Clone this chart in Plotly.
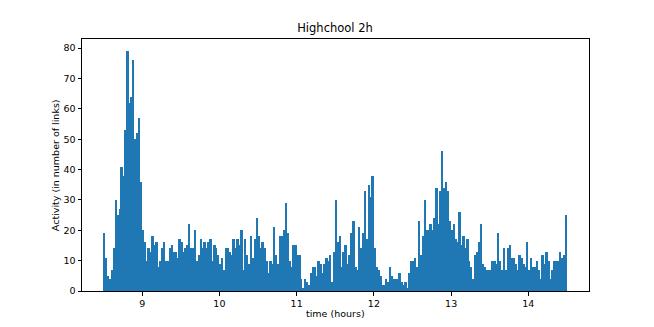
import numpy as np
import plotly.graph_objects as go

# =============================================================================
# DATA (1.5-minute bins from 8.5h to 14.5h)
# =============================================================================

START_HOUR = 8.5
BIN_HOURS = 0.025

activity_0830_0952 = [
    19, 11, 5, 4, 7, 14, 30, 25, 27, 41,
    38, 53, 79, 62, 64, 76, 50, 52, 57, 36,
    20, 16, 10, 14, 13, 18, 15, 16, 8, 10,
    14, 16, 10, 10, 14, 15, 13, 13, 11, 17,
    16, 13, 14, 15, 22, 14, 14, 20, 10, 12,
    17, 14, 16, 14, 16,
]
activity_0952_1122 = [
    17, 10, 15, 14, 12, 9, 11, 7, 14, 14,
    13, 12, 17, 14, 17, 15, 20, 7, 17, 12,
    9, 18, 11, 17, 24, 18, 14, 16, 14, 10,
    6, 10, 9, 21, 12, 9, 18, 18, 20, 29,
    19, 10, 8, 15, 15, 12, 12, 4, 1, 4,
    3, 2, 6, 8, 8, 5, 10, 9, 6, 9,
]
activity_1122_1255 = [
    11, 10, 12, 3, 13, 30, 16, 18, 8, 13,
    15, 9, 12, 19, 23, 8, 7, 21, 14, 19,
    33, 17, 35, 31, 38, 14, 8, 7, 5, 2,
    2, 4, 3, 8, 5, 4, 4, 4, 6, 3,
    2, 3, 1, 6, 10, 10, 11, 8, 23, 12,
    18, 30, 20, 20, 22, 20, 24, 34, 22, 33,
    46, 34,
]
activity_1255_1430 = [
    36, 33, 23, 20, 22, 17, 16, 26, 15, 18,
    14, 17, 10, 8, 4, 12, 13, 16, 22, 9,
    8, 7, 7, 7, 10, 10, 9, 19, 10, 7,
    14, 7, 14, 15, 11, 11, 9, 7, 12, 11,
    9, 8, 16, 7, 11, 8, 8, 10, 7, 4,
    12, 9, 13, 10, 4, 7, 10, 10, 10, 13,
    11, 12, 25,
]

activity = (activity_0830_0952 + activity_0952_1122
            + activity_1122_1255 + activity_1255_1430)
bin_starts = START_HOUR + BIN_HOURS * np.arange(len(activity))

x_ticks = [9, 10, 11, 12, 13, 14]
y_ticks = [0, 10, 20, 30, 40, 50, 60, 70, 80]

# =============================================================================
# FIGURE
# =============================================================================

fig = go.Figure()
fig.add_trace(
    go.Bar(
        x=bin_starts, y=activity, width=BIN_HOURS, offset=0,
        marker=dict(color='#1f77b4', line=dict(width=0)),
        hovertemplate='%{x:.2f} h: %{y}<extra></extra>',
    ))

axis_style = dict(showline=True, linecolor='black', linewidth=1, mirror=True,
                  ticks='outside', ticklen=3.5, tickcolor='black', showgrid=False,
                  zeroline=False, automargin=False,
                  tickfont=dict(size=9.5, color='black'))

fig.update_xaxes(range=[8.221, 14.785], tickvals=x_ticks, **axis_style)
fig.update_yaxes(range=[0, 83], tickvals=y_ticks, **axis_style)

# axis titles placed like matplotlib's
fig.add_annotation(text='time (hours)', xref='paper', yref='paper', x=0.5, y=-0.091,
                   showarrow=False, xanchor='center', yanchor='middle',
                   font=dict(size=9.5, color='black'))
fig.add_annotation(text='Activity (in number of links)', xref='paper', yref='paper',
                   x=-0.053, y=0.5, textangle=-90, showarrow=False,
                   xanchor='center', yanchor='middle',
                   font=dict(size=9.5, color='black'))

# the page body adds an 8px offset, so margins are shifted to compensate
fig.update_layout(
    width=654, height=327,
    margin=dict(l=74, r=73, t=31, b=44),
    plot_bgcolor='white', paper_bgcolor='white',
    font=dict(family='DejaVu Sans', color='black'),
    title=dict(text='Highchool 2h', x=0.5, xanchor='center', y=0.939, yanchor='middle',
               font=dict(size=11.5, color='black')),
    bargap=0, showlegend=False,
)

fig.write_html("out.html")
